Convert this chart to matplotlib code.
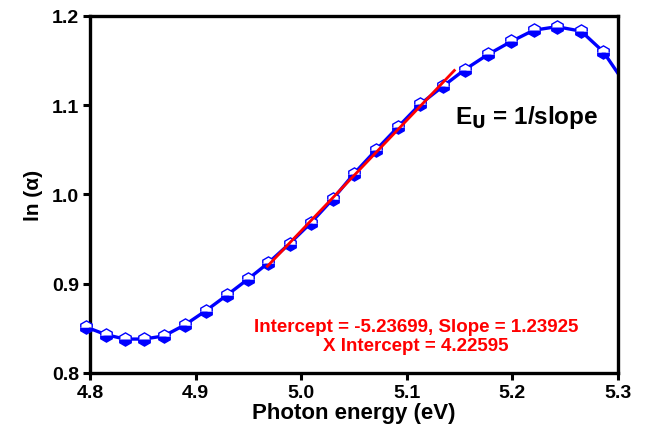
import numpy as np
import matplotlib
matplotlib.use("Agg")
import matplotlib.pyplot as plt

plt.rcParams['font.family'] = ['Liberation Sans', 'DejaVu Sans']
plt.rcParams['font.weight'] = 'bold'

# data
energy = [4.796, 4.815, 4.833, 4.851, 4.870, 4.890, 4.910, 4.930, 4.950, 4.969,
          4.989, 5.009, 5.030, 5.050, 5.071, 5.092, 5.1125, 5.134, 5.155, 5.177,
          5.199, 5.220, 5.242, 5.265, 5.286]
ln_alpha = [0.8516, 0.843, 0.838, 0.838, 0.8415, 0.854, 0.870, 0.8875, 0.9055, 0.9235,
            0.945, 0.968, 0.995, 1.0233, 1.050, 1.076, 1.101, 1.121, 1.140, 1.157,
            1.1715, 1.184, 1.188, 1.183, 1.160]
# curve keeps going past the right axis edge
tail_energy = [5.309]
tail_ln_alpha = [1.120]

intercept = -5.23699
slope = 1.23925
x_intercept = 4.22595
fit_range = [4.968, 5.145]

fig = plt.figure(figsize=(6.46, 4.31), dpi=100)
ax = fig.add_axes([0.1393, 0.1323, 0.8174, 0.8283])

ax.plot(energy + tail_energy, ln_alpha + tail_ln_alpha, color='#0000ff', lw=2.4, zorder=2)
ax.plot(energy, ln_alpha, ls='none', marker='h', markersize=9.5,
        fillstyle='bottom', markerfacecolor='#0000ff', markerfacecoloralt='white',
        markeredgecolor='#0000ff', markeredgewidth=1.0, clip_on=False, zorder=3)

fit_x = np.array(fit_range)
ax.plot(fit_x, intercept + slope * fit_x, color='#ff0000', lw=2.0, zorder=4)

ax.set_xlim(4.8, 5.3)
ax.set_ylim(0.8, 1.2)
ax.set_xticks([4.8, 4.9, 5.0, 5.1, 5.2, 5.3])
ax.set_yticks([0.8, 0.9, 1.0, 1.1, 1.2])
ax.set_xticklabels(['4.8', '4.9', '5.0', '5.1', '5.2', '5.3'])
ax.set_yticklabels(['0.8', '0.9', '1.0', '1.1', '1.2'])
ax.tick_params(direction='out', length=5, width=2.2, labelsize=14, pad=3)
for s in ax.spines.values():
    s.set_linewidth(2.4)

ax.set_xlabel('Photon energy (eV)', fontsize=16, fontweight='bold', labelpad=1)
ax.set_ylabel('ln (α)', fontsize=15, fontweight='bold', labelpad=6)

ax.text(5.1456, 1.087, r'E$_\mathbf{U}$ = 1/slope', fontsize=17.5, fontweight='bold', color='black',
        va='center', ha='left')
ax.text(0.617, 0.104, f'Intercept = {intercept}, Slope = {slope}\nX Intercept = {x_intercept}',
        transform=ax.transAxes, fontsize=13.5, fontweight='bold', color='#ff0000',
        ha='center', va='center', linespacing=1.15)

fig.savefig('out.png', dpi=100)
